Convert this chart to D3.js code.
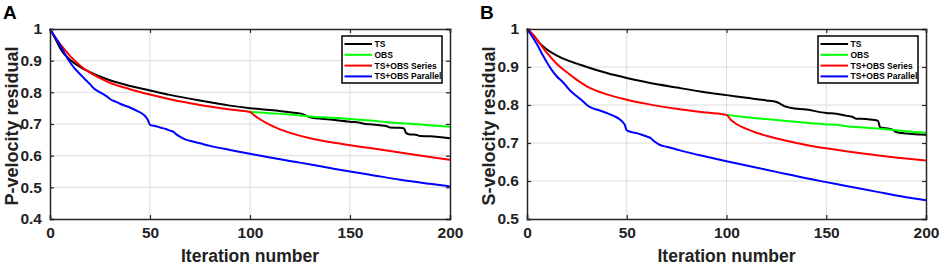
<!DOCTYPE html>
<html>
<head>
<meta charset="utf-8">
<script src="https://cdn.jsdelivr.net/npm/d3@7"></script>
<style>
    body { margin: 0; background: #fff; }
    svg { display: block; font-family: "Liberation Sans", Arial, sans-serif; }
</style>
</head>
<body>
<svg id="chart" width="941" height="266"></svg>
<script>
// Residual vs iteration, two panels (P and S velocity)

const seriesNames = ['TS', 'OBS', 'TS+OBS Series', 'TS+OBS Parallel'];
const seriesColors = ['#000000', '#00ff00', '#ff0000', '#0000ff'];
const xTicks = [0, 50, 100, 150, 200];

// Panel A - P-velocity
const pTicksY = [0.4, 0.5, 0.6, 0.7, 0.8, 0.9, 1];
const pTsIter = [0, 3, 6, 10, 15, 20, 25, 30, 40, 50, 60, 75, 90, 100, 110, 120, 126, 128, 130, 140, 150, 155, 157, 160, 165, 168, 170, 175, 177, 178, 180, 183, 185, 190, 200];
const pTsVal = [1, 0.965, 0.93, 0.903, 0.88, 0.864, 0.85, 0.838, 0.82, 0.806, 0.792, 0.774, 0.758, 0.75, 0.744, 0.737, 0.732, 0.726, 0.721, 0.714, 0.707, 0.704, 0.701, 0.699, 0.696, 0.694, 0.689, 0.688, 0.686, 0.672, 0.667, 0.666, 0.662, 0.661, 0.655];
const pObsIter = [100, 110, 120, 125, 130, 140, 150, 160, 170, 180, 190, 200];
const pObsVal = [0.738, 0.734, 0.73, 0.727, 0.724, 0.72, 0.716, 0.711, 0.705, 0.701, 0.696, 0.691];
const pSerIter = [0, 3, 6, 10, 15, 20, 25, 30, 40, 50, 60, 75, 90, 100, 102, 105, 110, 115, 120, 130, 140, 150, 160, 175, 190, 200];
const pSerVal = [1, 0.97, 0.945, 0.915, 0.885, 0.862, 0.845, 0.83, 0.81, 0.793, 0.778, 0.76, 0.746, 0.738, 0.728, 0.715, 0.697, 0.683, 0.672, 0.655, 0.643, 0.633, 0.624, 0.61, 0.596, 0.587];
const pParIter = [0, 2, 5, 8, 10, 12, 15, 18, 20, 22, 25, 28, 30, 33, 35, 40, 44, 46, 48, 49, 50, 53, 55, 58, 60, 62, 63, 65, 67, 70, 75, 80, 90, 100, 110, 125, 140, 150, 160, 175, 190, 200];
const pParVal = [1, 0.98, 0.95, 0.915, 0.895, 0.878, 0.858, 0.838, 0.826, 0.812, 0.8, 0.789, 0.779, 0.77, 0.764, 0.752, 0.74, 0.733, 0.722, 0.712, 0.697, 0.693, 0.689, 0.684, 0.679, 0.674, 0.668, 0.66, 0.653, 0.647, 0.639, 0.631, 0.618, 0.606, 0.594, 0.578, 0.561, 0.55, 0.54, 0.524, 0.511, 0.503];

// Panel B - S-velocity
const sTicksY = [0.5, 0.6, 0.7, 0.8, 0.9, 1];
const sTsIter = [0, 3, 6, 10, 15, 20, 25, 30, 40, 50, 60, 75, 90, 100, 110, 120, 125, 127, 129, 132, 140, 150, 155, 160, 163, 165, 170, 175, 176, 177, 180, 183, 185, 190, 200];
const sTsVal = [1, 0.985, 0.965, 0.946, 0.93, 0.918, 0.909, 0.9, 0.884, 0.871, 0.86, 0.846, 0.833, 0.826, 0.819, 0.812, 0.808, 0.803, 0.797, 0.793, 0.788, 0.779, 0.777, 0.772, 0.769, 0.764, 0.763, 0.76, 0.758, 0.741, 0.739, 0.736, 0.729, 0.725, 0.722];
const sObsIter = [100, 110, 120, 130, 140, 150, 155, 160, 170, 180, 190, 200];
const sObsVal = [0.774, 0.768, 0.763, 0.758, 0.753, 0.749, 0.748, 0.744, 0.74, 0.736, 0.731, 0.727];
const sSerIter = [0, 3, 6, 10, 15, 20, 25, 30, 40, 50, 60, 75, 90, 100, 102, 105, 110, 115, 120, 130, 140, 150, 160, 175, 190, 200];
const sSerVal = [1, 0.985, 0.965, 0.937, 0.908, 0.886, 0.866, 0.849, 0.828, 0.814, 0.803, 0.79, 0.78, 0.774, 0.762, 0.75, 0.737, 0.727, 0.719, 0.706, 0.695, 0.686, 0.678, 0.668, 0.659, 0.654];
const sParIter = [0, 2, 5, 8, 10, 12, 15, 18, 20, 22, 25, 28, 30, 33, 35, 40, 44, 46, 48, 49, 50, 53, 55, 58, 60, 62, 63, 65, 67, 70, 75, 80, 90, 100, 110, 125, 140, 150, 160, 175, 190, 200];
const sParVal = [1, 0.985, 0.96, 0.93, 0.912, 0.895, 0.875, 0.86, 0.848, 0.836, 0.823, 0.81, 0.8, 0.791, 0.788, 0.779, 0.77, 0.764, 0.755, 0.748, 0.733, 0.728, 0.726, 0.721, 0.717, 0.713, 0.708, 0.7, 0.694, 0.69, 0.683, 0.676, 0.664, 0.652, 0.641, 0.624, 0.607, 0.597, 0.587, 0.572, 0.557, 0.549];

const zip = (xs, ys) => xs.map((x, i) => ({ x, y: ys[i] }));

const panels = [
    {
        letter: 'A', left: 50, right: 450, yLabel: 'P-velocity residual', yTicks: pTicksY,
        series: [zip(pTsIter, pTsVal), zip(pObsIter, pObsVal), zip(pSerIter, pSerVal), zip(pParIter, pParVal)]
    },
    {
        letter: 'B', left: 527, right: 926, yLabel: 'S-velocity residual', yTicks: sTicksY,
        series: [zip(sTsIter, sTsVal), zip(sObsIter, sObsVal), zip(sSerIter, sSerVal), zip(sParIter, sParVal)]
    }
];

const plotTop = 29, plotBottom = 219;
const svg = d3.select('#chart');

panels.forEach(p => {
    const x = d3.scaleLinear().domain([0, 200]).range([p.left, p.right]);
    const y = d3.scaleLinear().domain(d3.extent(p.yTicks)).range([plotBottom, plotTop]);
    const g = svg.append('g');

    // grid
    g.selectAll('.gx').data(xTicks.slice(1, -1)).enter().append('line')
        .attr('x1', d => x(d)).attr('x2', d => x(d))
        .attr('y1', plotTop).attr('y2', plotBottom)
        .attr('stroke', '#dcdcdc').attr('stroke-width', 1);
    g.selectAll('.gy').data(p.yTicks.slice(1, -1)).enter().append('line')
        .attr('x1', p.left).attr('x2', p.right)
        .attr('y1', d => y(d)).attr('y2', d => y(d))
        .attr('stroke', '#dcdcdc').attr('stroke-width', 1);

    // lines
    const line = d3.line().x(d => x(d.x)).y(d => y(d.y)).curve(d3.curveMonotoneX);
    p.series.forEach((s, i) => {
        g.append('path')
            .datum(s)
            .attr('fill', 'none')
            .attr('stroke', seriesColors[i])
            .attr('stroke-width', 2)
            .attr('stroke-linejoin', 'round')
            .attr('d', line);
    });

    // box axes with inward ticks (MATLAB style)
    const tickLen = 4;
    const axisCol = '#262626';
    g.append('g').attr('transform', `translate(0,${plotBottom})`)
        .call(d3.axisBottom(x).tickValues(xTicks).tickSize(-tickLen).tickPadding(8).tickFormat(d3.format('d')));
    g.append('g').attr('transform', `translate(0,${plotTop})`)
        .call(d3.axisTop(x).tickValues(xTicks).tickSize(-tickLen).tickFormat(''));
    g.append('g').attr('transform', `translate(${p.left},0)`)
        .call(d3.axisLeft(y).tickValues(p.yTicks).tickSize(-tickLen).tickPadding(8).tickFormat(d => d === 1 ? '1' : d3.format('.1f')(d)));
    g.append('g').attr('transform', `translate(${p.right},0)`)
        .call(d3.axisRight(y).tickValues(p.yTicks).tickSize(-tickLen).tickFormat(''));

    g.selectAll('.domain').attr('stroke', axisCol).attr('stroke-width', 1.5);
    g.selectAll('.tick line').attr('stroke', axisCol).attr('stroke-width', 1.2);
    g.selectAll('.tick text')
        .attr('fill', '#222')
        .attr('font-size', '15.5px')
        .attr('font-weight', 'bold')
        .attr('font-family', '"Liberation Sans", Arial, sans-serif');

    // axis labels
    g.append('text')
        .attr('x', (p.left + p.right) / 2).attr('y', 261.5)
        .attr('text-anchor', 'middle')
        .attr('font-size', '17.5px').attr('font-weight', 'bold').attr('fill', '#222')
        .text('Iteration number');
    g.append('text')
        .attr('transform', `translate(${p.left - 32},${(plotTop + plotBottom) / 2 + 2}) rotate(-90)`)
        .attr('text-anchor', 'middle')
        .attr('font-size', '18px').attr('font-weight', 'bold').attr('fill', '#222')
        .text(p.yLabel);

    // panel letter
    g.append('text')
        .attr('x', p.left - 47).attr('y', 18.5)
        .attr('font-size', '19px').attr('font-weight', 'bold').attr('fill', '#000')
        .text(p.letter);

    // legend
    const lgRight = p.right - 8, lgLeft = lgRight - 100;
    const lg = g.append('g');
    lg.append('rect')
        .attr('x', lgLeft).attr('y', 36)
        .attr('width', 100).attr('height', 47)
        .attr('fill', '#fff').attr('stroke', '#000').attr('stroke-width', 1.5);
    seriesNames.forEach((name, i) => {
        const yy = 44 + i * 10.8;
        lg.append('line')
            .attr('x1', lgLeft + 2.5).attr('x2', lgLeft + 30)
            .attr('y1', yy).attr('y2', yy)
            .attr('stroke', seriesColors[i]).attr('stroke-width', 2);
        lg.append('text')
            .attr('x', lgLeft + 32.5).attr('y', yy)
            .attr('dy', '0.35em')
            .attr('font-size', '8.5px').attr('font-weight', 'bold').attr('fill', '#000')
            .text(name);
    });
});
</script>
</body>
</html>
